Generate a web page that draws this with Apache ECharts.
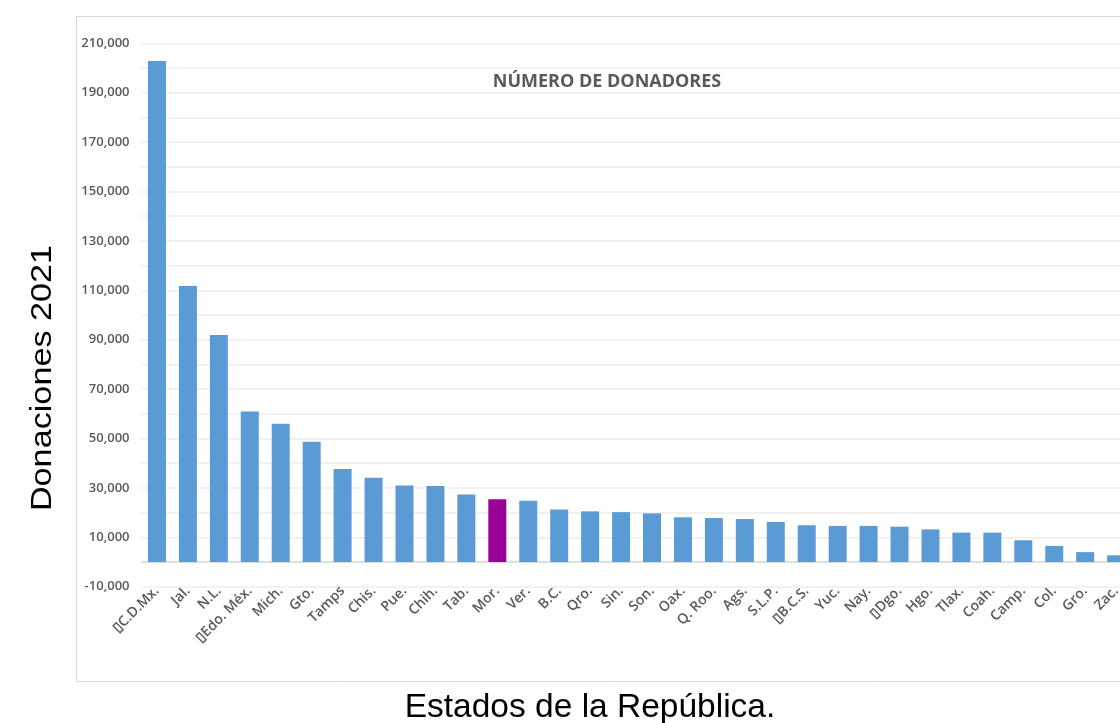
<!DOCTYPE html>
<html>
<head>
<meta charset="utf-8">
<script src="https://cdn.jsdelivr.net/npm/echarts@6/dist/echarts.min.js"></script>
<style>
  html, body { margin: 0; padding: 0; background: #fff; overflow: hidden; }
  #chart { width: 1140px; height: 723px; }
</style>
</head>
<body>
<div id="chart"></div>
<script>
  // estados (orden del grafico original)
  const estados = [
    '\u25AFC.D.Mx.', 'Jal.', 'N.L.', '\u25AFEdo. Méx.', 'Mich.', 'Gto.', 'Tamps', 'Chis.',
    'Pue.', 'Chih.', 'Tab.', 'Mor.', 'Ver.', 'B.C.', 'Qro.', 'Sin.',
    'Son.', 'Oax.', 'Q. Roo.', 'Ags.', 'S.L.P.', '\u25AFB.C.S.', 'Yuc.', 'Nay.',
    '\u25AFDgo.', 'Hgo.', 'Tlax.', 'Coah.', 'Camp.', 'Col.', 'Gro.', 'Zac.'
  ]
  const donadores = [
    202800, 111700, 91900, 60900, 56000, 48700, 37700, 34100,
    31000, 30800, 27300, 25400, 24800, 21300, 20500, 20200,
    19700, 18100, 17800, 17400, 16200, 14900, 14600, 14600,
    14300, 13200, 11900, 11900, 8800, 6500, 4000, 2700
  ]
  const destacado = 'Mor.'

  let myChart = echarts.init(document.getElementById('chart'))

  let barData = donadores.map((v, i) => {
    if (estados[i] === destacado) {
      return { value: v, itemStyle: { color: '#990099' } }
    }
    return v
  })

  let option = {
    animation: false,
    grid: {
      left: 141.5,
      right: 8.4,
      top: 43.3,
      bottom: 136.3
    },
    graphic: [
      {
        type: 'rect',
        shape: { x: 76.5, y: 16.5, width: 1100, height: 665 },
        style: { fill: 'none', stroke: '#d9d9d9', lineWidth: 1 },
        z: -1
      },
      {
        type: 'text',
        x: 607, y: 82,
        style: {
          text: 'NÚMERO DE DONADORES',
          fill: '#595959',
          font: 'bold 18px "Open Sans"',
          align: 'center',
          verticalAlign: 'middle'
        }
      },
      {
        type: 'text',
        x: 43, y: 378,
        rotation: Math.PI / 2,
        scaleX: 1.14,
        style: {
          text: 'Donaciones 2021',
          fill: '#000',
          font: '30px "Liberation Sans"',
          align: 'center',
          verticalAlign: 'middle'
        }
      },
      {
        type: 'text',
        x: 590, y: 708,
        style: {
          text: 'Estados de la República.',
          fill: '#000',
          font: '33.5px "Liberation Sans"',
          align: 'center',
          verticalAlign: 'middle'
        }
      }
    ],
    xAxis: {
      type: 'category',
      data: estados,
      axisLine: { onZero: true, lineStyle: { color: '#d9d9d9', width: 1.5 } },
      axisTick: { show: false },
      axisLabel: {
        interval: 0,
        rotate: 45,
        margin: 2,
        color: '#595959',
        fontSize: 14,
        fontWeight: 600,
        fontFamily: 'Open Sans'
      }
    },
    yAxis: {
      type: 'value',
      min: -10000,
      max: 210000,
      interval: 10000,
      axisLine: { show: false },
      axisTick: { show: false },
      splitLine: { lineStyle: { color: '#ececec', width: 1.5 } },
      axisLabel: {
        margin: 12,
        color: '#595959',
        fontSize: 13,
        fontWeight: 600,
        fontFamily: 'Open Sans',
        formatter: function (v) {
          if (v % 20000 === 0) return ''
          return v.toLocaleString('en-US')
        }
      }
    },
    series: [{
      type: 'bar',
      data: barData,
      barWidth: 18,
      itemStyle: { color: '#5B9BD5' }
    }]
  }
  myChart.setOption(option)
</script>
</body>
</html>
